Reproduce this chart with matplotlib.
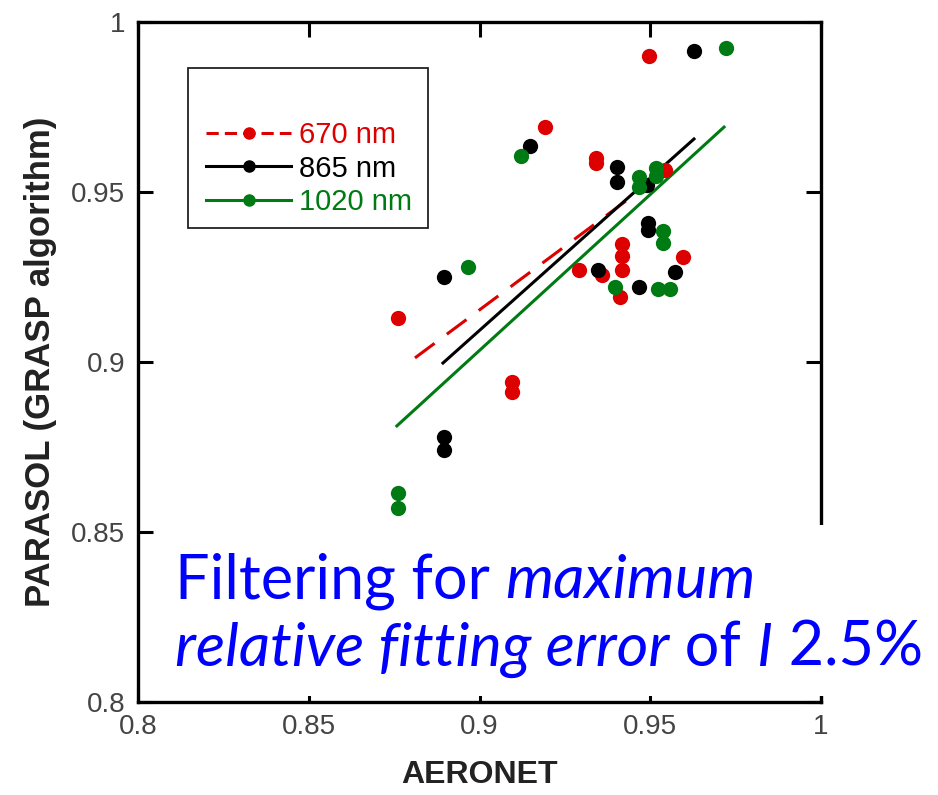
import matplotlib.pyplot as plt
from matplotlib.lines import Line2D
from matplotlib.patches import Rectangle

plt.rcParams["font.family"] = ["Liberation Sans", "DejaVu Sans"]

# AERONET vs PARASOL single scattering albedo, by wavelength
x670 = [0.8761, 0.9496, 0.9192, 0.9341, 0.9341, 0.9543, 0.9095, 0.9095,
        0.9291, 0.9359, 0.9417, 0.9417, 0.9417, 0.9411, 0.9596]
y670 = [0.9129, 0.9900, 0.9691, 0.9600, 0.9585, 0.9565, 0.8941, 0.8912,
        0.9271, 0.9256, 0.9347, 0.9312, 0.9271, 0.9191, 0.9309]

x865 = [0.9628, 0.9148, 0.9403, 0.9403, 0.9491, 0.9494, 0.9494, 0.8896,
        0.8896, 0.8896, 0.9347, 0.9467, 0.9572]
y865 = [0.9915, 0.9635, 0.9574, 0.9529, 0.9521, 0.9409, 0.9388, 0.9250,
        0.8779, 0.8741, 0.9271, 0.9221, 0.9265]

x1020 = [0.9722, 0.9121, 0.9467, 0.9467, 0.9517, 0.9517, 0.8966, 0.9537,
         0.9537, 0.9397, 0.9523, 0.9558, 0.8761, 0.8761]
y1020 = [0.9924, 0.9606, 0.9544, 0.9515, 0.9571, 0.9547, 0.9279, 0.9385,
         0.9350, 0.9221, 0.9215, 0.9215, 0.8615, 0.8571]

# regression lines (end points)
fit670_x = [0.8811, 0.9520]
fit670_y = [0.9012, 0.9542]
fit865_x = [0.8893, 0.9628]
fit865_y = [0.8997, 0.9656]
fit1020_x = [0.8758, 0.9716]
fit1020_y = [0.8812, 0.9691]

labels = ["670 nm", "865 nm", "1020 nm"]
red = "#dd0000"
green = "#007a12"
blue = "#0000ff"

fig = plt.figure(figsize=(9.38, 7.95), dpi=100)
ax = fig.add_axes([0.1471, 0.1170, 0.7282, 0.8553])

ax.plot(fit670_x, fit670_y, color=red, lw=2.2, dashes=(8, 5), zorder=2)
ax.plot(fit865_x, fit865_y, color="black", lw=2.2, zorder=2)
ax.plot(fit1020_x, fit1020_y, color=green, lw=2.2, zorder=2)

ax.plot(x670, y670, "o", color=red, ms=11, mew=0, zorder=3)
ax.plot(x865, y865, "o", color="black", ms=11, mew=0, zorder=3)
ax.plot(x1020, y1020, "o", color=green, ms=11, mew=0, zorder=3)

ax.set_xlim(0.8, 1.0)
ax.set_ylim(0.8, 1.0)
ax.set_xticks([0.8, 0.85, 0.9, 0.95, 1.0])
ax.set_xticklabels(["0.8", "0.85", "0.9", "0.95", "1"])
ax.set_yticks([0.8, 0.85, 0.9, 0.95, 1.0])
ax.set_yticklabels(["0.8", "0.85", "0.9", "0.95", "1"])

ax.tick_params(direction="in", length=11, width=2.2, top=True, right=True,
               labelsize=20, labelcolor="#444444", pad=9)
for s in ax.spines.values():
    s.set_linewidth(2.4)

ax.set_xlabel("AERONET", fontsize=23, fontweight="bold", color="#222222",
              labelpad=14)
ax.set_ylabel("PARASOL (GRASP algorithm)", fontsize=25, fontweight="bold",
              color="#222222", labelpad=10)

handles = [
    Line2D([], [], color=red, lw=2.2, dashes=(4, 2), marker="o", ms=8),
    Line2D([], [], color="black", lw=2.2, marker="o", ms=8),
    Line2D([], [], color=green, lw=2.2, marker="o", ms=8),
]
leg = ax.legend(handles, labels, loc="upper left",
                bbox_to_anchor=(0.083, 0.872), frameon=False, fontsize=21,
                handlelength=2.9, handletextpad=0.28, labelspacing=0.2,
                borderpad=0.4, borderaxespad=0)
for t, c in zip(leg.get_texts(), [red, "black", green]):
    t.set_color(c)

# legend frame
ax.add_patch(Rectangle((0.073, 0.697), 0.351, 0.235, transform=ax.transAxes,
                       fill=False, lw=1.3, ec="#222222", zorder=4))

# white note box over the lower right corner
fig.add_artist(Rectangle((160 / 938, 1 - 696 / 795), 1 - 160 / 938,
                         (696 - 525) / 795, transform=fig.transFigure,
                         fc="white", ec="none", zorder=5))

fig.canvas.draw()
renderer = fig.canvas.get_renderer()


def write_line(parts, x, y):
    for s, style in parts:
        t = fig.text(x, y, s, fontsize=44, family="Lato", style=style,
                     color=blue, zorder=6, va="baseline")
        x += t.get_window_extent(renderer).width / fig.bbox.width


write_line([("Filtering for ", "normal"), ("maximum", "italic")],
           175 / 938, 1 - 598 / 795)
write_line([("relative fitting error", "italic"), (" of ", "normal"),
            ("I", "italic"), (" 2.5%", "normal")],
           175 / 938, 1 - 666 / 795)

fig.savefig("out.png", dpi=100)
